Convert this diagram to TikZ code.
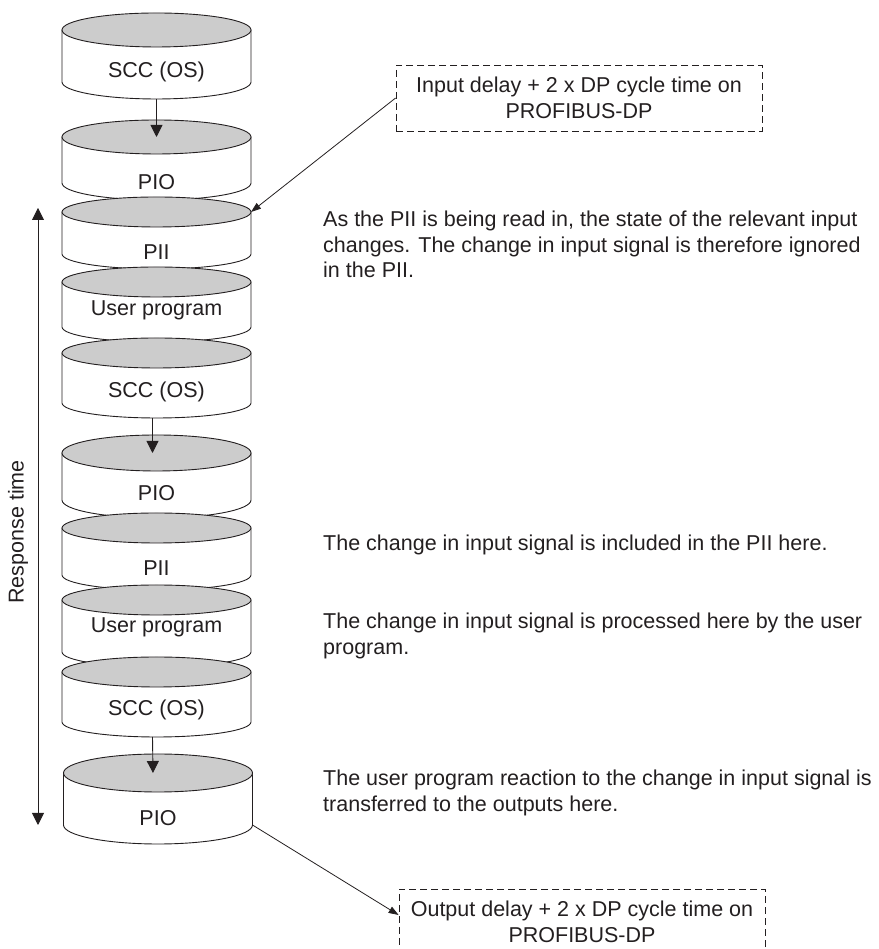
\documentclass[tikz,border=0pt]{standalone}
\usepackage{fontspec}
\setmainfont{Liberation Sans}
\usetikzlibrary{arrows.meta}

\definecolor{ink}{HTML}{231F20}
\definecolor{lid}{HTML}{CCCCCC}

\tikzset{
    drumbody/.style={draw=ink, fill=white, line width=0.9pt},
    drumlid/.style={draw=ink, fill=lid, line width=0.9pt},
    drumtext/.style={text=ink, inner sep=0pt},
    flow/.style={draw=ink, line width=0.9pt, -{Triangle[length=12pt,width=12pt]}},
    pointer/.style={draw=ink, line width=0.8pt, -{Triangle[length=10pt,width=7pt]}},
    delaybox/.style={draw=ink, dash pattern=on 7pt off 4pt, line width=0.8pt,
        minimum width=366pt, minimum height=66pt, align=center, text=ink, inner sep=0pt},
    note/.style={anchor=north west, align=left, text=ink, inner sep=0pt},
}

% name, x, lid centre, base centre, y radius, text height, text
\newcommand{\drum}[7]{
    \path[drumbody] (#2-94.5,#3) -- (#2-94.5,#4)
        arc[start angle=180, end angle=360, x radius=94.5pt, y radius=#5pt]
        -- (#2+94.5,#3) -- cycle;
    \path[drumlid] (#2,#3) ellipse[x radius=94.5pt, y radius=#5pt];
    \coordinate (#1-lid) at (#2,#3);
    \coordinate (#1-rim) at (#2+94.5,#3);
    \coordinate (#1-base) at (#2+94.5,#4);
    \coordinate (#1-bot) at (#2,#4-#5);
    \node[drumtext] (#1) at (#2,#6) {#7};
}

\begin{document}
\begin{tikzpicture}[x=1pt, y=1pt, font=\fontsize{21.5pt}{25.5pt}\selectfont]
    \useasboundingbox (0,0) rectangle (878,949);
    \clip (0,0) rectangle (878,949);

    \drum{scc1}{156.5}{919}{867}{17}{877}{SCC (OS)}
    \drum{pio1}{156.5}{812}{766}{17}{767}{PIO}
    \drum{pii1}{156.5}{737}{695}{15}{697}{PII}
    \drum{user1}{156.5}{667}{622}{15}{639}{User program}
    \drum{scc2}{156.5}{596}{546}{15}{557}{SCC (OS)}
    \drum{pio2}{156.5}{496}{449}{18}{456}{PIO}
    \drum{pii2}{156.5}{421}{374}{15}{381}{PII}
    \drum{user2}{156.5}{349}{297}{15}{322}{User program}
    \drum{scc3}{156.5}{277}{227}{15}{239}{SCC (OS)}
    \drum{pio3}{158}{176}{124}{19}{131}{PIO}

    \draw[flow] (scc1-bot) -- (pio1-lid);
    \draw[flow] ([xshift=-4pt]scc2-bot) -- ([xshift=-4pt]pio2-lid);
    \draw[flow] ([xshift=-4pt]scc3-bot) -- ([xshift=-5pt]pio3-lid);

    \coordinate (rt-top) at (38,741);
    \coordinate (rt-bot) at (38,124);
    \draw[flow, {Triangle[length=12pt,width=12pt]}-{Triangle[length=12pt,width=12pt]}] (rt-top) -- (rt-bot);
    \node[drumtext, rotate=90] (rtime) at (18,417) {Response time};

    \node[delaybox] (indelay) at (579,851) {Input delay + 2 x DP cycle time on\\PROFIBUS-DP};
    \node[delaybox] (outdelay) at (582,27) {Output delay + 2 x DP cycle time on\\PROFIBUS-DP};

    \draw[pointer] (indelay.west) -- (pii1-rim);
    \draw[pointer] (pio3-base) -- ([yshift=7pt]outdelay.west);

    \node[note] (readin) at (323,738) {As the PII is being read in, the state of the relevant input\\changes. The change in input signal is therefore ignored\\in the PII.};
    \node[note] (included) at (323,414) {The change in input signal is included in the PII here.};
    \node[note] (processed) at (323,336) {The change in input signal is processed here by the user\\program.};
    \node[note] (reaction) at (323,179) {The user program reaction to the change in input signal is\\transferred to the outputs here.};
\end{tikzpicture}
\end{document}
